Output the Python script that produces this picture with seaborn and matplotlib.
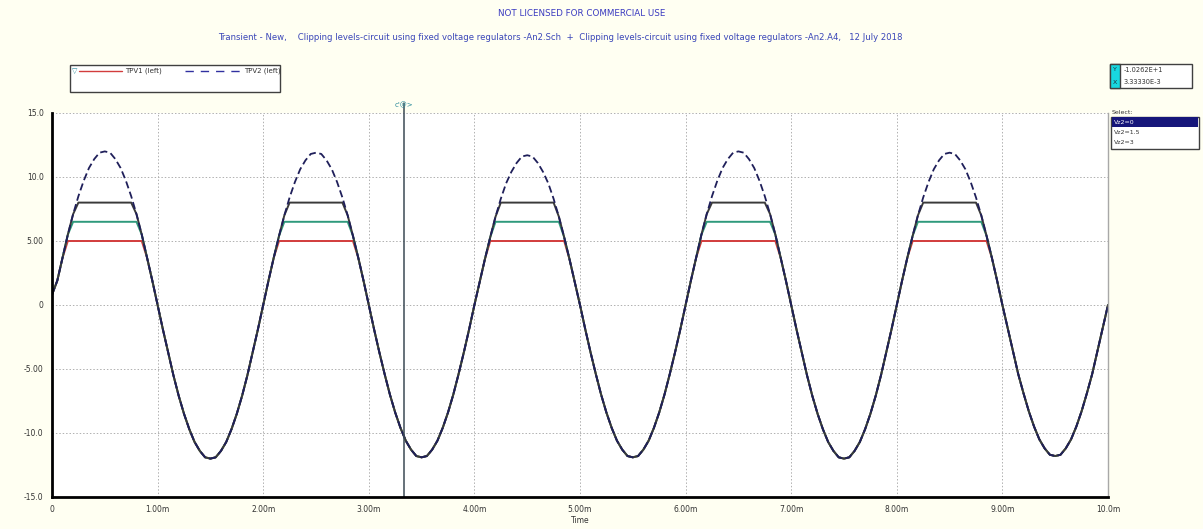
# transient plot - clipping levels circuit (fixed voltage regulators)
import numpy as np
import pandas as pd
import matplotlib
matplotlib.use("Agg")
import matplotlib.pyplot as plt
import seaborn as sns
from matplotlib.lines import Line2D
from matplotlib.patches import Rectangle

# ==================== DATA ====================
time_ms = np.round(np.arange(0, 10.001, 0.05), 2)  # 0 .. 10 ms, 0.05 ms step
# input sine TPV2 (volts), 20 samples per half cycle
vin = [0.8, 1.9, 3.7, 5.5, 7.1, 8.5, 9.7, 10.7, 11.4, 11.9, 12.0, 11.9, 11.4, 10.7, 9.7, 8.5, 7.1, 5.5, 3.7, 1.9,
       0.0, -1.9, -3.7, -5.5, -7.1, -8.5, -9.7, -10.7, -11.4, -11.9, -12.0, -11.9, -11.4, -10.7, -9.7, -8.5, -7.1, -5.5, -3.7, -1.9,
       0.0, 1.9, 3.7, 5.4, 7.0, 8.4, 9.6, 10.6, 11.3, 11.8, 11.9, 11.8, 11.3, 10.6, 9.6, 8.4, 7.0, 5.4, 3.7, 1.9,
       0.0, -1.9, -3.7, -5.4, -7.0, -8.4, -9.6, -10.6, -11.3, -11.8, -11.9, -11.8, -11.3, -10.6, -9.6, -8.4, -7.0, -5.4, -3.7, -1.9,
       0.0, 1.8, 3.6, 5.3, 6.9, 8.3, 9.5, 10.4, 11.1, 11.6, 11.7, 11.6, 11.1, 10.4, 9.5, 8.3, 6.9, 5.3, 3.6, 1.8,
       0.0, -1.9, -3.7, -5.4, -7.0, -8.4, -9.6, -10.6, -11.3, -11.8, -11.9, -11.8, -11.3, -10.6, -9.6, -8.4, -7.0, -5.4, -3.7, -1.9,
       0.0, 1.9, 3.7, 5.5, 7.1, 8.5, 9.7, 10.7, 11.4, 11.9, 12.0, 11.9, 11.4, 10.7, 9.7, 8.5, 7.1, 5.5, 3.7, 1.9,
       0.0, -1.9, -3.7, -5.5, -7.1, -8.5, -9.7, -10.7, -11.4, -11.9, -12.0, -11.9, -11.4, -10.7, -9.7, -8.5, -7.1, -5.5, -3.7, -1.9,
       0.0, 1.9, 3.7, 5.4, 7.0, 8.4, 9.6, 10.6, 11.3, 11.8, 11.9, 11.8, 11.3, 10.6, 9.6, 8.4, 7.0, 5.4, 3.7, 1.9,
       0.0, -1.8, -3.6, -5.4, -6.9, -8.3, -9.5, -10.5, -11.2, -11.7, -11.8, -11.7, -11.2, -10.5, -9.5, -8.3, -6.9, -5.4, -3.6, -1.8,
       0.0]
vz2_steps = ["Vz2=0", "Vz2=1.5", "Vz2=3"]
clip_levels = [5.0, 6.5, 8.0]  # flat tops of TPV1 for each step
step_colors = ["#d23c3c", "#2f9a7c", "#3a3a3a"]
cursor_t = 3.333
cursor_y = "-1.0262E+1"
cursor_x = "3.33330E-3"
xticks = [0, 1, 2, 3, 4, 5, 6, 7, 8, 9, 10]
xlabels = ["0", "1.00m", "2.00m", "3.00m", "4.00m", "5.00m", "6.00m", "7.00m", "8.00m", "9.00m", "10.0m"]
yticks = [-15, -10, -5, 0, 5, 10, 15]
ylabels = ["-15.0", "-10.0", "-5.00", "0", "5.00", "10.0", "15.0"]

rows = []
for step, lvl in zip(vz2_steps, clip_levels):
    for t, v in zip(time_ms, vin):
        rows.append({"t": t, "v": min(v, lvl), "step": step})
df_out = pd.DataFrame(rows)
df_in = pd.DataFrame({"t": time_ms, "v": vin})

# ==================== PLOT ====================
sns.set_style("white")
plt.rcParams["font.family"] = ["DejaVu Sans"]
W, H = 1203, 529
fig = plt.figure(figsize=(W / 100, H / 100), dpi=100, facecolor="#fffff2")
ax = fig.add_axes([52 / W, 1 - 497 / H, (1108 - 52) / W, (497 - 113) / H])
ax.set_facecolor("white")

sns.lineplot(data=df_out, x="t", y="v", hue="step", hue_order=vz2_steps,
             palette=step_colors, linewidth=1.4, legend=False, ax=ax, sort=False,
             estimator=None)
sns.lineplot(data=df_in, x="t", y="v", color="#1f1f5a", linewidth=1.3,
             linestyle=(0, (4, 2)), legend=False, ax=ax, sort=False, estimator=None)

ax.set_xlim(0, 10)
ax.set_ylim(-15, 15)
ax.set_xticks(xticks)
ax.set_xticklabels(xlabels, fontsize=5.5, color="#333333")
ax.set_yticks(yticks)
ax.set_yticklabels(ylabels, fontsize=5.5, color="#333333")
ax.tick_params(length=0, pad=6)
ax.set_xlabel("Time", fontsize=5.5, color="#333333", labelpad=1)
ax.set_ylabel("")
ax.grid(True, color="#b0b0b0", linestyle=(0, (1.5, 2)), linewidth=0.7)
ax.spines["top"].set_visible(False)
ax.spines["left"].set_color("black")
ax.spines["left"].set_linewidth(2)
ax.spines["bottom"].set_color("black")
ax.spines["bottom"].set_linewidth(2)
ax.spines["right"].set_color("#a8a8a8")
ax.spines["right"].set_linewidth(1)

# cursor
ax.axvline(cursor_t, color="#3c4a55", linewidth=1.1, ymax=1.025, clip_on=False)
ax.text(cursor_t, 15.4, "c'@>", ha="center", va="bottom", fontsize=5, color="#2a8a9a")

# ==================== TITLES ====================
fig.text(582 / W, 1 - 14 / H, "NOT LICENSED FOR COMMERCIAL USE", ha="center", va="center",
         fontsize=6.3, color="#3a3ac0")
fig.text(560 / W, 1 - 37 / H,
         "Transient - New,    Clipping levels-circuit using fixed voltage regulators -An2.Sch  +  "
         "Clipping levels-circuit using fixed voltage regulators -An2.A4,   12 July 2018",
         ha="center", va="center", fontsize=6.1, color="#3a46b8")

# ==================== LEGEND BOX ====================
fig.add_artist(Rectangle((70 / W, 1 - 92 / H), 210 / W, 27 / H, transform=fig.transFigure,
                         facecolor="white", edgecolor="#404040", linewidth=1))
fig.text(75 / W, 1 - 71 / H, "\u25bd", fontsize=5, color="#2a8a9a", ha="center", va="center")
fig.add_artist(Line2D([79 / W, 122 / W], [1 - 71 / H, 1 - 71 / H], transform=fig.transFigure,
                      color=step_colors[0], linewidth=1))
fig.text(125 / W, 1 - 71 / H, "TPV1 (left)", fontsize=5, color="#333333", va="center")
fig.add_artist(Line2D([185 / W, 241 / W], [1 - 71 / H, 1 - 71 / H], transform=fig.transFigure,
                      color="#3030a0", linewidth=1, linestyle=(0, (6, 5))))
fig.text(244 / W, 1 - 71 / H, "TPV2 (left)", fontsize=5, color="#333333", va="center")

# ==================== CURSOR VALUE BOX ====================
fig.add_artist(Rectangle((1110 / W, 1 - 88 / H), 82 / W, 24 / H, transform=fig.transFigure,
                         facecolor="white", edgecolor="#404040", linewidth=1))
fig.add_artist(Rectangle((1110 / W, 1 - 88 / H), 10 / W, 24 / H, transform=fig.transFigure,
                         facecolor="#18d8e0", edgecolor="#404040", linewidth=1))
fig.text(1115 / W, 1 - 70 / H, "Y", fontsize=4.5, ha="center", va="center", color="#203040")
fig.text(1115 / W, 1 - 82 / H, "X", fontsize=4.5, ha="center", va="center", color="#203040")
fig.text(1124 / W, 1 - 70 / H, cursor_y, fontsize=4.8, va="center", color="#333333")
fig.text(1124 / W, 1 - 82 / H, cursor_x, fontsize=4.8, va="center", color="#333333")

# ==================== STEP SELECTOR ====================
fig.text(1112 / W, 1 - 113 / H, "Select:", fontsize=4.5, va="center", color="#333333")
fig.add_artist(Rectangle((1111 / W, 1 - 149 / H), 88 / W, 32 / H, transform=fig.transFigure,
                         facecolor="white", edgecolor="#404040", linewidth=1))
for i, name in enumerate(vz2_steps):
    ytop = 117 + i * 10.5
    if i == 0:
        fig.add_artist(Rectangle((1112 / W, 1 - (ytop + 10) / H), 86 / W, 10 / H,
                                 transform=fig.transFigure, facecolor="#16167a", edgecolor="none"))
    fig.text(1114 / W, 1 - (ytop + 5) / H, name, fontsize=4.5, va="center",
             color="white" if i == 0 else "#333333")

plt.savefig("out.png", dpi=100, facecolor=fig.get_facecolor())
plt.close()
